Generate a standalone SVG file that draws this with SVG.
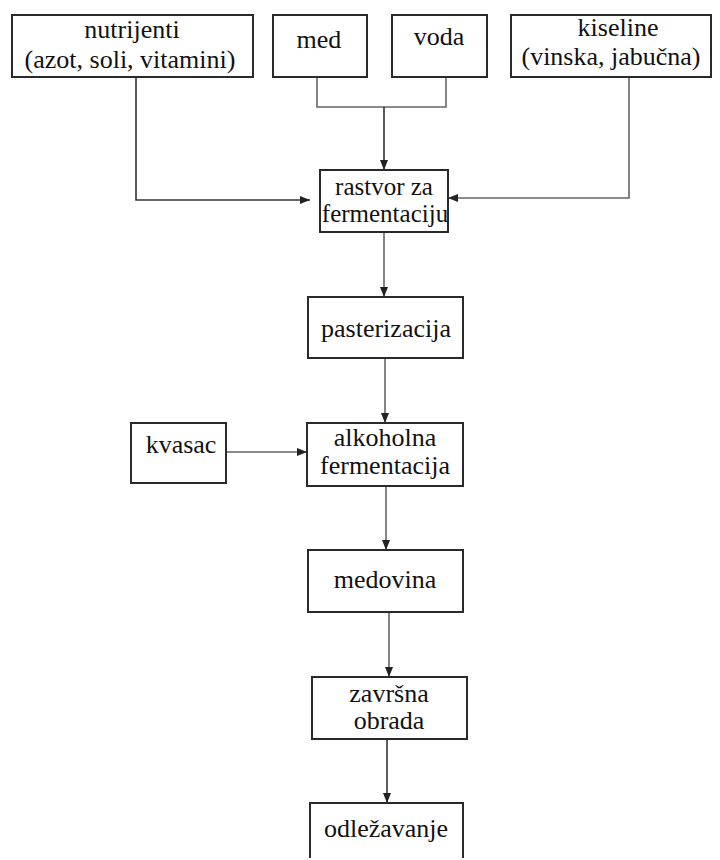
<svg xmlns="http://www.w3.org/2000/svg" width="720" height="860" viewBox="0 0 720 860">
<defs>
<marker id="ah" viewBox="0 0 10 10" refX="10" refY="5" markerWidth="10" markerHeight="10" markerUnits="userSpaceOnUse" orient="auto">
<path d="M0,1 L10,5 L0,9 Z" fill="#222"/>
</marker>
<style>
.box{fill:#fff;stroke:#2a2a2a;stroke-width:2}
text{font-family:Times New Roman, Liberation Serif, Tinos, DejaVu Serif, serif;font-size:26px;fill:#111;text-anchor:middle}
.s{font-size:25px}
.c{fill:none;stroke:#333;stroke-width:1.6}
.g{stroke:#666}
</style>
</defs>
<rect width="720" height="860" fill="#fff"/>
<g id="connectors">
<polyline class="c" points="136,77 136,200 310,200" marker-end="url(#ah)"/>
<polyline class="c g" points="317,77 317,107 446,107 446,77"/>
<line class="c" x1="384" y1="107" x2="384" y2="170" marker-end="url(#ah)"/>
<polyline class="c g" points="629,77 629,198 448,198" marker-end="url(#ah)"/>
<line class="c g" x1="384" y1="232" x2="384" y2="297" marker-end="url(#ah)"/>
<line class="c g" x1="385" y1="358" x2="385" y2="423" marker-end="url(#ah)"/>
<line class="c g" x1="226" y1="452" x2="307" y2="452" marker-end="url(#ah)"/>
<line class="c g" x1="386" y1="486" x2="386" y2="550" marker-end="url(#ah)"/>
<line class="c g" x1="389" y1="612" x2="389" y2="677" marker-end="url(#ah)"/>
<line class="c" x1="387" y1="739" x2="387" y2="803" marker-end="url(#ah)"/>
</g>
<g id="nutrijenti">
<rect class="box" x="12" y="15" width="241" height="62"/>
<text x="132" y="38">nutrijenti</text>
<text x="130" y="68">(azot, soli, vitamini)</text>
</g>
<g id="med">
<rect class="box" x="273" y="15" width="94" height="62"/>
<text x="319" y="48">med</text>
</g>
<g id="voda">
<rect class="box" x="392" y="15" width="95" height="62"/>
<text x="439" y="45">voda</text>
</g>
<g id="kiseline">
<rect class="box" x="511" y="15" width="200" height="62"/>
<text x="618" y="36">kiseline</text>
<text x="611" y="65">(vinska, jabučna)</text>
</g>
<g id="rastvor">
<rect class="box" x="320" y="170" width="128" height="62"/>
<text class="s" x="384" y="195">rastvor za</text>
<text class="s" x="385" y="222">fermentaciju</text>
</g>
<g id="pasterizacija">
<rect class="box" x="308" y="297" width="155" height="61"/>
<text x="386" y="337">pasterizacija</text>
</g>
<g id="kvasac">
<rect class="box" x="131" y="423" width="95" height="60"/>
<text x="181" y="453">kvasac</text>
</g>
<g id="alkoholna">
<rect class="box" x="307" y="423" width="156" height="63"/>
<text x="385" y="446">alkoholna</text>
<text x="385" y="474">fermentacija</text>
</g>
<g id="medovina">
<rect class="box" x="308" y="550" width="155" height="62"/>
<text x="385" y="588">medovina</text>
</g>
<g id="zavrsna">
<rect class="box" x="312" y="677" width="155" height="62"/>
<text x="389" y="702">završna</text>
<text x="389" y="729">obrada</text>
</g>
<g id="odlezavanje">
<path class="box" d="M310,858 L310,803 L463,803 L463,858"/>
<text x="386" y="837">odležavanje</text>
</g>
</svg>
